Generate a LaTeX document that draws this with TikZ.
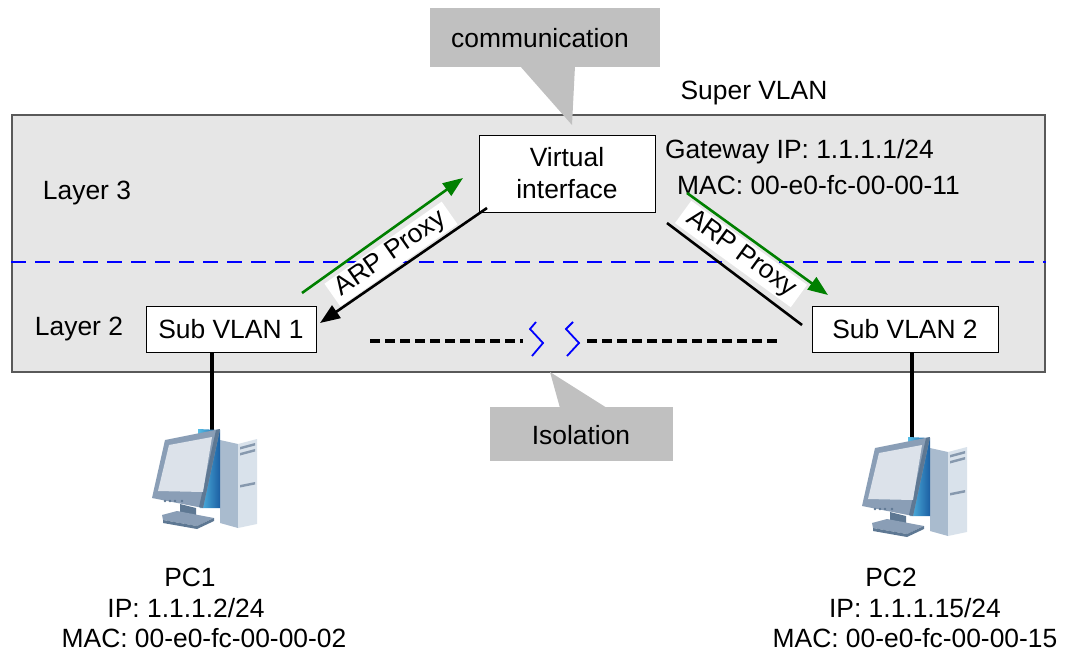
\documentclass[tikz,border=0pt]{standalone}
\usepackage{fontspec}
\setmainfont{Liberation Sans}
\usetikzlibrary{arrows.meta}
\definecolor{panel}{HTML}{E6E6E6}
\definecolor{paneledge}{HTML}{595959}
\definecolor{calloutgray}{HTML}{C0C0C0}
\definecolor{arpgreen}{HTML}{008000}
\definecolor{bezel}{HTML}{8A9EB6}
\definecolor{bezeldark}{HTML}{5E7893}
\definecolor{screen}{HTML}{DCE2EA}
\definecolor{towerside}{HTML}{A9BBCE}
\definecolor{towerfront}{HTML}{D9E2EB}
\definecolor{slot}{HTML}{8799AE}
\definecolor{backlight}{HTML}{55BDE6}
\definecolor{backdark}{HTML}{1C5FA3}
\tikzset{
  txt/.style={font=\fontsize{26.4}{32}\selectfont, inner sep=0pt},
  vbox/.style={draw=black, line width=1pt, fill=white, font=\fontsize{26.4}{32}\selectfont, align=center, inner sep=0pt},
  callout/.style={fill=calloutgray, draw=none},
  arplabel/.style={fill=white, font=\fontsize{26.4}{32}\selectfont, inner xsep=7pt, inner ysep=2pt},
  greenarrow/.style={draw=arpgreen, line width=2.6pt, -{Triangle[length=20pt,width=15pt]}},
  blackarrow/.style={draw=black, line width=2.6pt, -{Triangle[length=20pt,width=15pt]}},
  blackline/.style={draw=black, line width=2.6pt},
  pclink/.style={draw=black, line width=3.5pt},
  isodash/.style={draw=black, line width=3.5pt, dash pattern=on 10pt off 5pt},
  breakmark/.style={draw=blue, line width=1.8pt},
  pcicon/.pic={
    % tower
    \fill[towerside] (90,30)--(108,34)--(108,118)--(90,113)--cycle;
    \fill[towerfront] (108,34)--(127,29)--(127,114)--(108,118)--cycle;
    \fill[slot] (110,37)--(125,33)--(125,35.5)--(110,39.5)--cycle;
    \fill[slot] (110,43)--(125,39)--(125,41.5)--(110,45.5)--cycle;
    \fill[slot] (110,75)--(125,72)--(125,74.5)--(110,77.5)--cycle;
    % monitor back
    \shade[left color=backlight, right color=backdark] (68,19)--(90,20)--(90,98)--(70,98)--cycle;
    % stand
    \fill[bezeldark] (50,94)--(66,98)--(66,107)--(50,104)--cycle;
    \fill[bezel] (32,105)--(47,101)--(84,108)--(67,116)--(33,110)--cycle;
    \fill[bezeldark] (33,110)--(67,116)--(84,108)--(84,111)--(67,119)--(33,113)--cycle;
    % bezel and screen
    \fill[bezel] (35,30)--(90,19)--(73,98)--(22,88)--cycle;
    \fill[bezeldark] (86,20)--(90,19)--(73,98)--(69,97)--cycle;
    \fill[screen] (39,35)--(82,27)--(73,82)--(28,81)--cycle;
    \foreach \bx in {35,40,45,52} \fill[bezeldark] (\bx,91) circle (1.4);
  }
}
\begin{document}
\begin{tikzpicture}[x=1pt,y=-1pt]
\useasboundingbox (0,0) rectangle (1071,653);

% Super VLAN area
\node[draw=paneledge, fill=panel, line width=1.2pt, minimum width=1033pt, minimum height=257pt, inner sep=0pt] (super) at (528.5,243.5) {};
\node[txt] (supername) at (754,93) {Super VLAN};
\draw[blue, line width=1.5pt, dash pattern=on 15pt off 9pt] (super.west |- 0,262) coordinate (l3w) -- (super.east |- 0,262) coordinate (l3e);
\node[txt] (layer3) at (87,193) {Layer 3};
\node[txt] (layer2) at (79,329) {Layer 2};

% communication callout
\fill[callout] (430,8) rectangle (660,67);
\fill[callout] (520,66) -- (572,125) -- (575,66) -- cycle;
\node[txt] (comm) at (540,38) {communication};

% isolation callout
\fill[callout] (490,407) rectangle (673,461);
\fill[callout] (560,408) -- (550,372) -- (607,408) -- cycle;
\node[txt] (iso) at (581,435) {Isolation};

% boxes
\node[vbox, minimum width=176pt, minimum height=77pt] (vif) at (567,173.5) {Virtual\\interface};
\node[txt, anchor=west] (gwip) at (665,152) {Gateway IP: 1.1.1.1/24};
\node[txt, anchor=west] (gwmac) at (677,185) {MAC: 00-e0-fc-00-00-11};
\node[vbox, minimum width=170pt, minimum height=46pt] (sv1) at (231,329) {Sub VLAN 1};
\node[vbox, minimum width=186pt, minimum height=46pt] (sv2) at (905,329) {Sub VLAN 2};

% ARP proxy labels
\node[arplabel, rotate=35] (arp1) at (391,254) {ARP Proxy};
\node[arplabel, rotate=-36] (arp2) at (741,254) {ARP Proxy};

% ARP proxy arrows
\coordinate (g1s) at (302,293);
\coordinate (g1e) at (463,178);
\coordinate (b1s) at (487,208);
\coordinate (b1e) at (320,323);
\coordinate (g2s) at (687,193);
\coordinate (g2e) at (828,295);
\coordinate (b2s) at (667,223);
\coordinate (b2e) at (802,325);
\draw[greenarrow] (g1s) -- (g1e);
\draw[blackarrow] (b1s) -- (b1e);
\draw[greenarrow] (g2s) -- (g2e);
\draw[blackline] (b2s) -- (b2e);

% isolation between sub VLANs
\coordinate (isoA) at (370,341);
\coordinate (isoB) at (523,341);
\coordinate (isoC) at (587,341);
\coordinate (isoD) at (780,341);
\draw[isodash] (isoA) -- (isoB);
\draw[isodash] (isoC) -- (isoD);
\draw[breakmark] (536,322) -- (530,329) -- (543,343) -- (532,356);
\draw[breakmark] (573,322) -- (566,329) -- (579,343) -- (567,356);

% hosts
\coordinate (pc1top) at (212,432);
\coordinate (pc2top) at (912,440);
\draw[pclink] (sv1.south -| pc1top) -- (pc1top);
\draw[pclink] (sv2.south -| pc2top) -- (pc2top);
\pic at (130,410) {pcicon};
\pic at (840,418) {pcicon};

\node[txt] (pc1) at (190,577) {PC1};
\node[txt] (pc1ip) at (186,608) {IP: 1.1.1.2/24};
\node[txt] (pc1mac) at (204,638) {MAC: 00-e0-fc-00-00-02};
\node[txt] (pc2) at (891,577) {PC2};
\node[txt] (pc2ip) at (915,608) {IP: 1.1.1.15/24};
\node[txt] (pc2mac) at (915,638) {MAC: 00-e0-fc-00-00-15};
\end{tikzpicture}
\end{document}
